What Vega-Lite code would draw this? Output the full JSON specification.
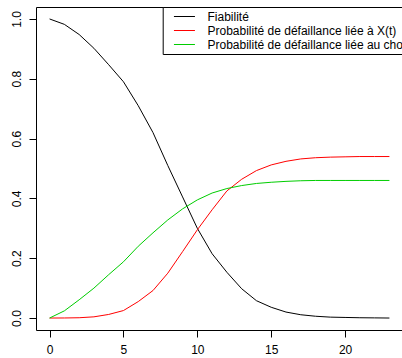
{
  "$schema": "https://vega.github.io/schema/vega-lite/v6.json",
  "autosize": {"type": "none"},
  "padding": {"left": 36, "top": 7, "right": 0, "bottom": 28},
  "width": 367,
  "height": 323,
  "background": "white",
  "data": {"values": [
    {"t": 0, "s": "Fiabilité", "p": 1.0},
    {"t": 1, "s": "Fiabilité", "p": 0.982},
    {"t": 2, "s": "Fiabilité", "p": 0.948},
    {"t": 3, "s": "Fiabilité", "p": 0.902},
    {"t": 4, "s": "Fiabilité", "p": 0.847},
    {"t": 5, "s": "Fiabilité", "p": 0.79},
    {"t": 6, "s": "Fiabilité", "p": 0.71},
    {"t": 7, "s": "Fiabilité", "p": 0.62},
    {"t": 8, "s": "Fiabilité", "p": 0.51},
    {"t": 9, "s": "Fiabilité", "p": 0.405},
    {"t": 10, "s": "Fiabilité", "p": 0.30},
    {"t": 11, "s": "Fiabilité", "p": 0.215},
    {"t": 12, "s": "Fiabilité", "p": 0.153},
    {"t": 13, "s": "Fiabilité", "p": 0.098},
    {"t": 14, "s": "Fiabilité", "p": 0.058},
    {"t": 15, "s": "Fiabilité", "p": 0.036},
    {"t": 16, "s": "Fiabilité", "p": 0.02},
    {"t": 17, "s": "Fiabilité", "p": 0.011},
    {"t": 18, "s": "Fiabilité", "p": 0.006},
    {"t": 19, "s": "Fiabilité", "p": 0.003},
    {"t": 20, "s": "Fiabilité", "p": 0.002},
    {"t": 21, "s": "Fiabilité", "p": 0.001},
    {"t": 22, "s": "Fiabilité", "p": 0.0005},
    {"t": 23, "s": "Fiabilité", "p": 0.0},
    {"t": 0, "s": "Probabilité de défaillance liée à X(t)", "p": 0.0},
    {"t": 1, "s": "Probabilité de défaillance liée à X(t)", "p": 0.0002},
    {"t": 2, "s": "Probabilité de défaillance liée à X(t)", "p": 0.001},
    {"t": 3, "s": "Probabilité de défaillance liée à X(t)", "p": 0.004},
    {"t": 4, "s": "Probabilité de défaillance liée à X(t)", "p": 0.012},
    {"t": 5, "s": "Probabilité de défaillance liée à X(t)", "p": 0.025},
    {"t": 6, "s": "Probabilité de défaillance liée à X(t)", "p": 0.055},
    {"t": 7, "s": "Probabilité de défaillance liée à X(t)", "p": 0.092},
    {"t": 8, "s": "Probabilité de défaillance liée à X(t)", "p": 0.15},
    {"t": 9, "s": "Probabilité de défaillance liée à X(t)", "p": 0.222},
    {"t": 10, "s": "Probabilité de défaillance liée à X(t)", "p": 0.295},
    {"t": 11, "s": "Probabilité de défaillance liée à X(t)", "p": 0.362},
    {"t": 12, "s": "Probabilité de défaillance liée à X(t)", "p": 0.425},
    {"t": 13, "s": "Probabilité de défaillance liée à X(t)", "p": 0.464},
    {"t": 14, "s": "Probabilité de défaillance liée à X(t)", "p": 0.493},
    {"t": 15, "s": "Probabilité de défaillance liée à X(t)", "p": 0.512},
    {"t": 16, "s": "Probabilité de défaillance liée à X(t)", "p": 0.524},
    {"t": 17, "s": "Probabilité de défaillance liée à X(t)", "p": 0.532},
    {"t": 18, "s": "Probabilité de défaillance liée à X(t)", "p": 0.536},
    {"t": 19, "s": "Probabilité de défaillance liée à X(t)", "p": 0.538},
    {"t": 20, "s": "Probabilité de défaillance liée à X(t)", "p": 0.539},
    {"t": 21, "s": "Probabilité de défaillance liée à X(t)", "p": 0.54},
    {"t": 22, "s": "Probabilité de défaillance liée à X(t)", "p": 0.54},
    {"t": 23, "s": "Probabilité de défaillance liée à X(t)", "p": 0.54},
    {"t": 0, "s": "Probabilité de défaillance liée au choc", "p": 0.0},
    {"t": 1, "s": "Probabilité de défaillance liée au choc", "p": 0.024},
    {"t": 2, "s": "Probabilité de défaillance liée au choc", "p": 0.061},
    {"t": 3, "s": "Probabilité de défaillance liée au choc", "p": 0.10},
    {"t": 4, "s": "Probabilité de défaillance liée au choc", "p": 0.145},
    {"t": 5, "s": "Probabilité de défaillance liée au choc", "p": 0.188},
    {"t": 6, "s": "Probabilité de défaillance liée au choc", "p": 0.24},
    {"t": 7, "s": "Probabilité de défaillance liée au choc", "p": 0.285},
    {"t": 8, "s": "Probabilité de défaillance liée au choc", "p": 0.328},
    {"t": 9, "s": "Probabilité de défaillance liée au choc", "p": 0.365},
    {"t": 10, "s": "Probabilité de défaillance liée au choc", "p": 0.395},
    {"t": 11, "s": "Probabilité de défaillance liée au choc", "p": 0.418},
    {"t": 12, "s": "Probabilité de défaillance liée au choc", "p": 0.433},
    {"t": 13, "s": "Probabilité de défaillance liée au choc", "p": 0.443},
    {"t": 14, "s": "Probabilité de défaillance liée au choc", "p": 0.45},
    {"t": 15, "s": "Probabilité de défaillance liée au choc", "p": 0.454},
    {"t": 16, "s": "Probabilité de défaillance liée au choc", "p": 0.457},
    {"t": 17, "s": "Probabilité de défaillance liée au choc", "p": 0.459},
    {"t": 18, "s": "Probabilité de défaillance liée au choc", "p": 0.46},
    {"t": 19, "s": "Probabilité de défaillance liée au choc", "p": 0.46},
    {"t": 20, "s": "Probabilité de défaillance liée au choc", "p": 0.46},
    {"t": 21, "s": "Probabilité de défaillance liée au choc", "p": 0.46},
    {"t": 22, "s": "Probabilité de défaillance liée au choc", "p": 0.46},
    {"t": 23, "s": "Probabilité de défaillance liée au choc", "p": 0.46}
  ]},
  "mark": {"type": "line", "strokeWidth": 1, "interpolate": "linear"},
  "encoding": {
    "x": {
      "field": "t", "type": "quantitative",
      "scale": {"domain": [-0.92, 23.92], "nice": false, "zero": false},
      "axis": {"values": [0, 5, 10, 15, 20], "format": "d", "title": null, "grid": false, "domain": false,
        "tickSize": 7, "tickColor": "black", "labelColor": "black", "labelFont": "Liberation Sans", "labelFontSize": 12,
        "labelPadding": 7, "labelFlush": false, "labelOverlap": false, "labelBound": false}
    },
    "y": {
      "field": "p", "type": "quantitative",
      "scale": {"domain": [-0.04, 1.04], "nice": false, "zero": false},
      "axis": {"values": [0, 0.2, 0.4, 0.6, 0.8, 1.0], "format": ".1f", "title": null, "grid": false, "domain": false,
        "tickSize": 7, "tickColor": "black", "labelColor": "black", "labelFont": "Liberation Sans", "labelFontSize": 12,
        "labelAngle": 270, "labelAlign": "center", "labelBaseline": "bottom", "labelPadding": 6,
        "labelFlush": false, "labelOverlap": false, "labelBound": false}
    },
    "color": {
      "field": "s", "type": "nominal",
      "scale": {
        "domain": ["Fiabilité", "Probabilité de défaillance liée à X(t)", "Probabilité de défaillance liée au choc"],
        "range": ["#000000", "#FF0000", "#00CD00"]
      },
      "legend": {
        "title": null, "orient": "none", "legendX": 126.7, "legendY": 0,
        "strokeColor": "black", "fillColor": "white", "padding": 3.5, "rowPadding": 2,
        "symbolType": "M0.5,0H6.5", "symbolSize": 49, "symbolStrokeWidth": 1,
        "labelOffset": 29.3, "labelFont": "Liberation Sans", "labelFontSize": 12, "labelColor": "black",
        "labelLimit": 500
      }
    }
  },
  "config": {"view": {"stroke": "black", "strokeWidth": 1}}
}
